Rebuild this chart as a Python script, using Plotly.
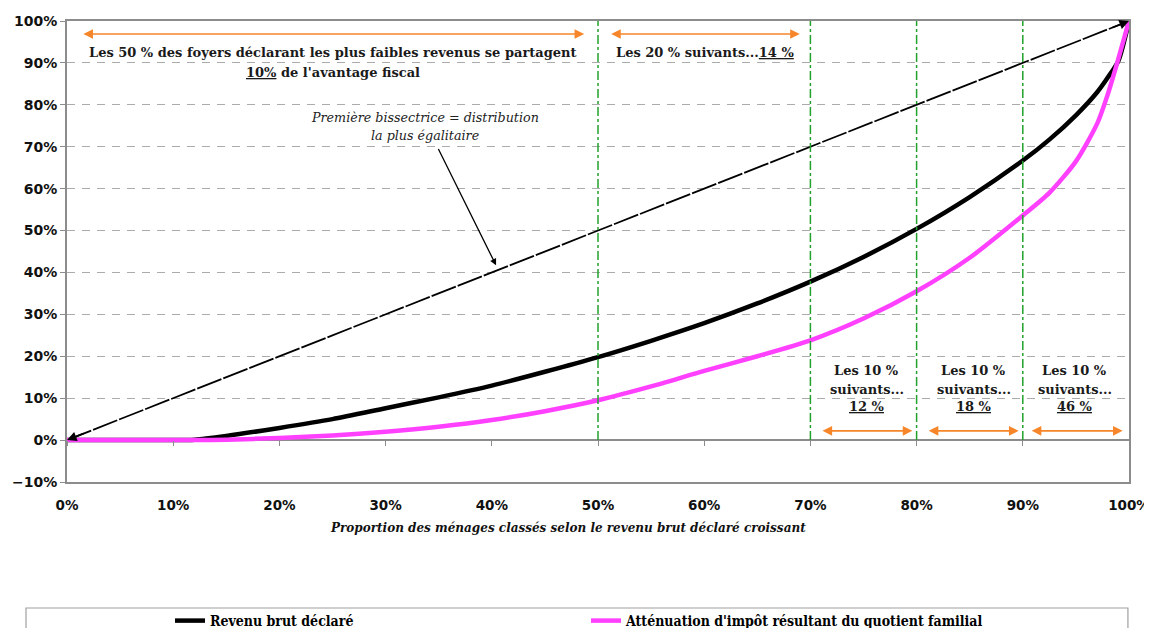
import plotly.graph_objects as go

# ---------------- data ----------------
share_households = [0, 5, 10, 12, 15, 20, 25, 30, 35, 40, 45, 50, 55, 60, 65, 70,
                    75, 80, 85, 90, 92.5, 95, 97, 98, 99, 100]
revenu_brut = [0, 0, 0, 0.1, 1, 2.9, 5, 7.6, 10.2, 13, 16.3, 19.8, 23.7, 27.9, 32.6, 37.8,
               43.7, 50.4, 58, 66.7, 71.7, 77.5, 83, 86.5, 90.5, 100]
attenuation_qf = [0, 0, 0, 0, 0.1, 0.5, 1.1, 2, 3.2, 4.8, 6.9, 9.5, 12.8, 16.5, 20, 23.8,
                  29, 35.5, 43.5, 53.6, 59, 66.5, 75.5, 82.5, 91, 100]
bisector_x = [0, 100]
bisector_y = [0, 100]
separators = [50, 70, 80, 90]

series_names = ["Revenu brut déclaré", "Atténuation d'impôt résultant du quotient familial"]
x_title = "Proportion des ménages classés selon le revenu brut déclaré croissant"

# bracket arrows: (x_start, x_end, y)
top_brackets = [(1.4, 48.7, 96.9), (51.1, 69.0, 96.9)]
bottom_brackets = [(71.0, 79.6, 2.2), (81.0, 89.6, 2.2), (90.7, 99.4, 2.2)]
decile_shares = ["12 %", "18 %", "46 %"]
decile_centers = [75.3, 85.4, 94.9]

U = '<span style="text-decoration:underline">{}</span>'

SERIF = "DejaVu Serif"
SANS = "DejaVu Sans"
GRID = "#ABABAB"
FRAME = "#8C8C8C"
ORANGE = "#F7862A"
GREEN = "#22A22C"

# the page body adds an 8px offset; figure is sized so the plot lands in place
W, H = 1144, 620

fig = go.Figure()

fig.add_trace(go.Scatter(x=bisector_x, y=bisector_y, mode="lines",
                         line=dict(color="black", width=1.8, dash="26px,2px"),
                         showlegend=False, hoverinfo="skip"))
fig.add_trace(go.Scatter(x=share_households, y=revenu_brut, mode="lines",
                         name=series_names[0],
                         line=dict(color="black", width=4.5, shape="spline", smoothing=0.7)))
fig.add_trace(go.Scatter(x=share_households, y=attenuation_qf, mode="lines",
                         name=series_names[1],
                         line=dict(color="#FF40FF", width=4.5, shape="spline", smoothing=0.7)))
# dummy trace for the secondary x axis (ticks on the 0% line)
fig.add_trace(go.Scatter(x=[0, 100], y=[None, None], xaxis="x2", mode="lines",
                         showlegend=False, hoverinfo="skip"))

shapes = []
for s in separators:
    shapes.append(dict(type="line", xref="x", yref="y", x0=s, x1=s, y0=0, y1=100,
                       line=dict(color=GREEN, width=1.5, dash="dashdot"), layer="above"))
# legend frame
shapes.append(dict(type="rect", xref="paper", yref="paper",
                   x0=-0.0386, x1=0.999, y0=-0.36, y1=-0.2733,
                   line=dict(color="#A0A0A0", width=1.2), fillcolor="rgba(0,0,0,0)"))

annotations = []
for x0, x1, yv in top_brackets + bottom_brackets:
    annotations.append(dict(x=x1, y=yv, ax=x0, ay=yv, xref="x", yref="y",
                            axref="x", ayref="y", text="", showarrow=True,
                            arrowhead=2, startarrowhead=2, arrowside="end+start",
                            arrowsize=1.2, startarrowsize=1.2, arrowwidth=1.6,
                            arrowcolor=ORANGE))

# arrowheads at the ends of the bisector
annotations.append(dict(x=100, y=100, xref="x", yref="y", ax=-18, ay=7.1, text="",
                        showarrow=True, arrowhead=2, arrowsize=1.2, arrowwidth=1.6,
                        arrowcolor="black"))
annotations.append(dict(x=0, y=0, xref="x", yref="y", ax=18, ay=-7.1, text="",
                        showarrow=True, arrowhead=2, arrowsize=1.2, arrowwidth=1.6,
                        arrowcolor="black"))

bold = dict(family=SERIF, size=13, color="#1a1a1a")


def txt(x, y, t, font=bold):
    annotations.append(dict(x=x, y=y, xref="x", yref="y", showarrow=False,
                            text=t, font=font, align="center"))


txt(25, 92.4, "<b>Les 50 % des foyers déclarant les plus faibles revenus se partagent</b>")
txt(25, 87.6, "<b>" + U.format("10%") + " de l'avantage fiscal</b>")
txt(60.1, 92.4, "<b>Les 20 % suivants..." + U.format("14 %") + "</b>")
for xc, pct in zip(decile_centers, decile_shares):
    txt(xc, 16.5, "<b>Les 10 %</b>")
    txt(xc, 12.1, "<b>suivants...</b>")
    txt(xc, 7.9, "<b>" + U.format(pct) + "</b>")

annotations.append(dict(x=40.4, y=41.7, xref="x", yref="y", ax=34.9, ay=69.8,
                        axref="x", ayref="y", text="", showarrow=True,
                        arrowhead=2, arrowsize=1, arrowwidth=1.3, arrowcolor="black"))
italic = dict(family=SERIF, size=12.7, color="#222")
txt(33.7, 76.9, "<i>Première bissectrice = distribution</i>", italic)
txt(33.7, 72.6, "<i>la plus égalitaire</i>", italic)

annotations.append(dict(x=(568 - 67) / 1062, y=(482 - 528) / 461, xref="paper", yref="paper",
                        xanchor="center", yanchor="middle",
                        showarrow=False, text="<b><i>" + x_title + "</i></b>",
                        font=dict(family=SERIF, size=12, color="#111")))

fig.update_layout(
    width=W, height=H,
    margin=dict(l=59, r=23, t=13, b=146, autoexpand=False),
    plot_bgcolor="white", paper_bgcolor="white",
    shapes=shapes, annotations=annotations,
    showlegend=True,
    legend=dict(orientation="h", xref="container", yref="container",
                x=162 / W, xanchor="left",
                y=1 - 597 / H, yanchor="top",
                entrywidth=371, entrywidthmode="pixels",
                font=dict(family="DejaVu Serif Condensed", size=14, color="black",
                          weight="bold"),
                bgcolor="rgba(0,0,0,0)", itemwidth=30, tracegroupgap=0),
    xaxis=dict(range=[0, 100], dtick=10, ticksuffix="%", showgrid=False,
               showline=True, mirror=True, linecolor=FRAME, linewidth=2,
               ticks="", ticklabelstandoff=10, zeroline=False, automargin=False,
               tickfont=dict(family=SANS, size=13.5, color="#111", weight="bold")),
    xaxis2=dict(range=[0, 100], dtick=10, overlaying="x", anchor="free",
                position=10 / 110, showgrid=False, showline=False,
                ticks="outside", ticklen=5, tickcolor=FRAME, tickwidth=1.2,
                showticklabels=False, zeroline=False, automargin=False),
    yaxis=dict(range=[-10, 100], dtick=10, ticksuffix="%",
               showgrid=True, gridcolor=GRID, griddash="8px,7px", gridwidth=1.2,
               zeroline=True, zerolinecolor=FRAME, zerolinewidth=1.5,
               showline=True, mirror=True, linecolor=FRAME, linewidth=2,
               ticks="outside", ticklen=5, tickcolor=FRAME, automargin=False,
               tickfont=dict(family=SANS, size=14, color="#111", weight="bold")),
)

fig.write_html("out.html",
               post_script="document.documentElement.style.overflow='hidden';"
                           "document.body.style.overflow='hidden';")
